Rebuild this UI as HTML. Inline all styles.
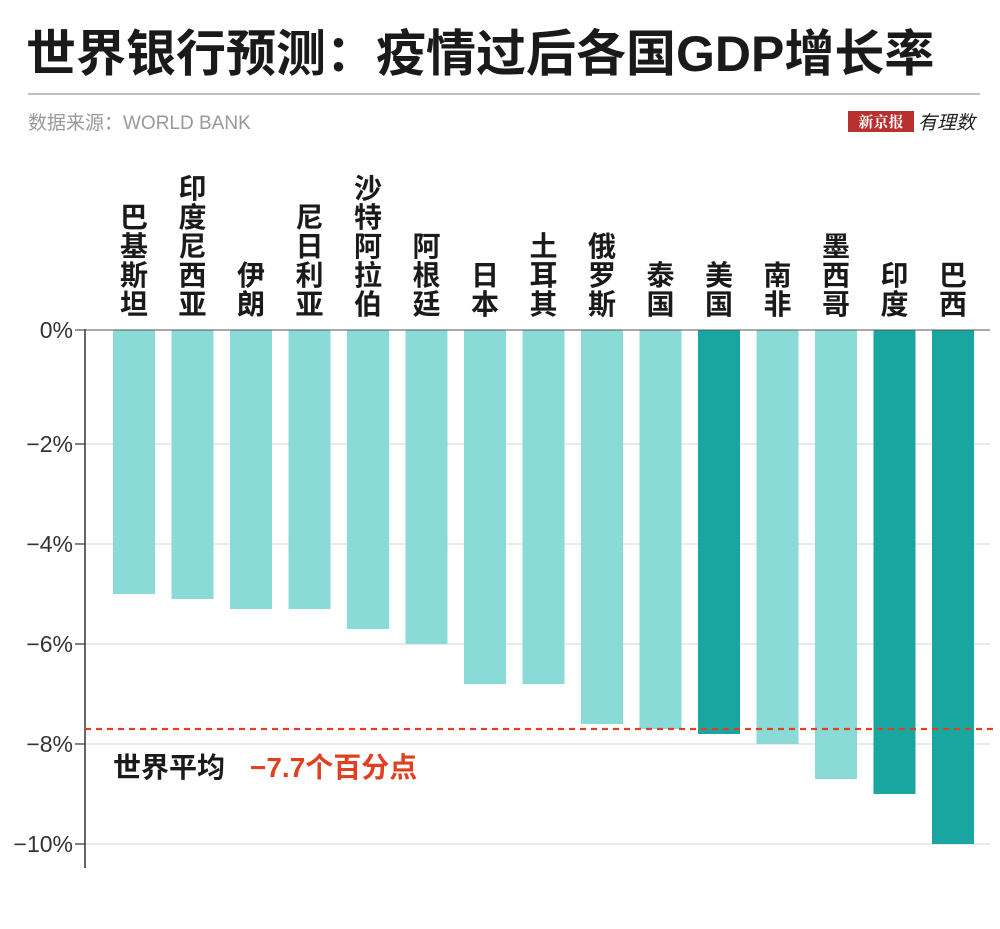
<!DOCTYPE html>
<html><head><meta charset="utf-8"><style>
body{margin:0;background:#fff;width:1000px;height:924px;overflow:hidden;font-family:"Liberation Sans","Noto Sans CJK SC",sans-serif}
</style></head><body>
<svg width="1000" height="924" xmlns="http://www.w3.org/2000/svg">
<text x="26" y="71" font-size="50" font-weight="bold" fill="#1a1a1a" font-family="Liberation Sans,Noto Sans CJK SC,sans-serif">世界银行预测：疫情过后各国GDP增长率</text>
<line x1="28" y1="94" x2="980" y2="94" stroke="#aaa" stroke-width="1.5"/>
<text x="28" y="129" font-size="19" fill="#999" font-family="Liberation Sans,Noto Sans CJK SC,sans-serif">数据来源：WORLD BANK</text>
<rect x="848" y="111" width="66" height="21" fill="#b8312f"/>
<text x="881" y="127" font-size="15" font-weight="bold" fill="#fff" text-anchor="middle" font-family="Noto Serif CJK SC,serif">新京报</text>
<text x="918" y="129" font-size="19" font-style="italic" fill="#222" font-family="Noto Sans CJK SC,sans-serif">有理数</text>
<g id="plot"></g>
</svg>
<script>
const countries=["巴基斯坦","印度尼西亚","伊朗","尼日利亚","沙特阿拉伯","阿根廷","日本","土耳其","俄罗斯","泰国","美国","南非","墨西哥","印度","巴西"];
const growth=[-5.0,-5.1,-5.3,-5.3,-5.7,-6.0,-6.8,-6.8,-7.6,-7.7,-7.8,-8.0,-8.7,-9.0,-10.0];
const highlight=[0,0,0,0,0,0,0,0,0,0,1,0,0,1,1];
const ticks=[0,-2,-4,-6,-8,-10];
const tickLabels=["0%","-2%","-4%","-6%","-8%","-10%"];
const worldAvg=-7.7;
const NS="http://www.w3.org/2000/svg";
const g=document.getElementById('plot');
function y(v){return v>=-2?330+(-v)*57:444+(-v-2)*50;}
function x(i){return 113+i*58.5;}
const bw=42;
function mk(t,a){const e=document.createElementNS(NS,t);for(const k in a)e.setAttribute(k,a[k]);g.appendChild(e);return e;}
ticks.forEach((t,i)=>{
 if(i>0){const l=mk('line',{x1:85,x2:990,y1:y(t),y2:y(t),stroke:'#ddd','stroke-width':1.2});
 
 }
 const tk=mk('line',{x1:75,x2:85,y1:y(t),y2:y(t),stroke:'#333','stroke-width':1.2});
 
 
 const tx=mk('text',{x:73,y:y(t)+8,'font-size':23,fill:'#333','text-anchor':'end'});
 tx.textContent=tickLabels[i].replace('-','−');
 
 
});
countries.forEach((c,i)=>{
 const r=mk('rect',{x:x(i),y:y(0),width:bw,height:y(growth[i])-y(0),fill:highlight[i]?'#1aa6a0':'#8adbd8'});
 
 
 const chars=[...c];
 chars.forEach((ch,j)=>{
  const t=mk('text',{x:x(i)+bw/2,y:314-(chars.length-1-j)*29,'font-size':28,'font-weight':'bold',fill:'#1a1a1a','text-anchor':'middle'});
  t.textContent=ch;
  
  
 });
});
const ax=mk('line',{x1:85,x2:85,y1:329,y2:868,stroke:'#333','stroke-width':1.5});


const top0=mk('line',{x1:75,x2:990,y1:330,y2:330,stroke:'#555','stroke-width':1});


const av=mk('line',{x1:85,x2:995,y1:y(worldAvg),y2:y(worldAvg),stroke:'#e0401f','stroke-width':2.2,'stroke-dasharray':'6,5'});


const t1=mk('text',{x:113,y:y(worldAvg)+48,'font-size':28,'font-weight':'bold',fill:'#1a1a1a'});
t1.textContent='世界平均';


const t2=mk('text',{x:250,y:y(worldAvg)+48,'font-size':28,'font-weight':'bold',fill:'#e0401f'});
t2.textContent='−'+Math.abs(worldAvg)+'个百分点';


</script>
</body></html>
